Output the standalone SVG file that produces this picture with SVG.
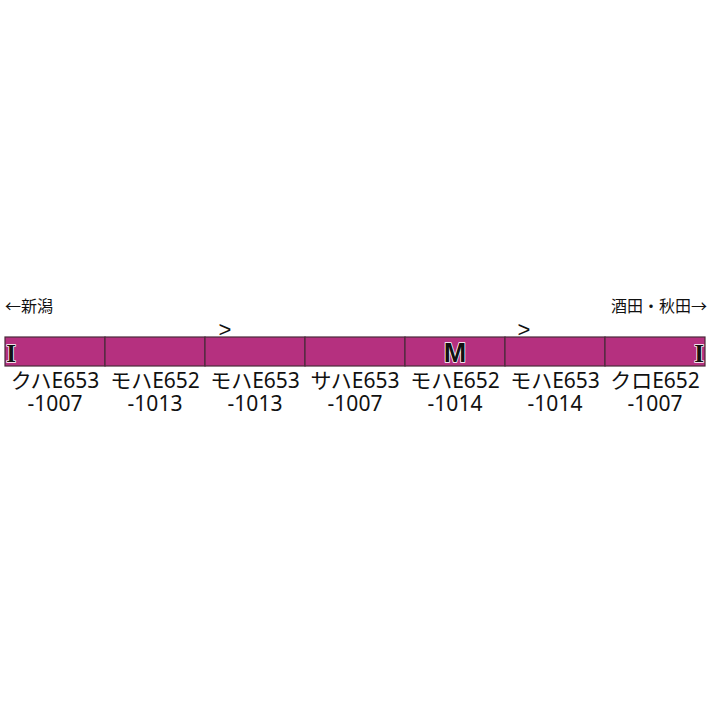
<svg xmlns="http://www.w3.org/2000/svg" width="712" height="712" viewBox="0 0 712 712">
<style>
.car{fill:#B5307F;stroke:#4a2a3a;stroke-width:1.2}
.lbl{font-family:"Noto Sans","Noto Sans CJK JP",sans-serif;font-size:21px;fill:#111;text-anchor:middle}
.dir{font-family:"Noto Sans CJK JP","Noto Sans",sans-serif;font-size:16px;fill:#111}
.mk{font-weight:bold;fill:#111;stroke:#fff;stroke-width:1.5;paint-order:stroke;text-anchor:middle}
.ms{font-family:"Liberation Sans","Noto Sans",sans-serif}
.mi{font-family:"Liberation Serif","DejaVu Serif",serif}
.gt{font-family:"Liberation Sans","Noto Sans",sans-serif;font-size:22px;fill:#111;text-anchor:middle}
</style>
<rect width="712" height="712" fill="#fff"/>
<text class="dir" x="5" y="312">←新潟</text>
<text class="dir" x="707" y="312" text-anchor="end">酒田・秋田→</text>
<g id="connectors"></g>
<g id="car1"><rect class="car" x="5" y="337" width="100" height="29"/><text class="mk mi" x="11" y="362" font-size="25">I</text><text class="lbl" x="55" y="388">クハE653<tspan x="55" dy="23">-1007</tspan></text></g>
<g id="car2"><rect class="car" x="105" y="337" width="100" height="29"/><text class="lbl" x="155" y="388">モハE652<tspan x="155" dy="23">-1013</tspan></text></g>
<g id="car3"><rect class="car" x="205" y="337" width="100" height="29"/><text class="gt" x="225" y="337">&gt;</text><text class="lbl" x="255" y="388">モハE653<tspan x="255" dy="23">-1013</tspan></text></g>
<g id="car4"><rect class="car" x="305" y="337" width="100" height="29"/><text class="lbl" x="355" y="388">サハE653<tspan x="355" dy="23">-1007</tspan></text></g>
<g id="car5"><rect class="car" x="405" y="337" width="100" height="29"/><text class="mk ms" x="455" y="362" font-size="27">M</text><text class="lbl" x="455" y="388">モハE652<tspan x="455" dy="23">-1014</tspan></text></g>
<g id="car6"><rect class="car" x="505" y="337" width="100" height="29"/><text class="gt" x="524" y="337">&gt;</text><text class="lbl" x="555" y="388">モハE653<tspan x="555" dy="23">-1014</tspan></text></g>
<g id="car7"><rect class="car" x="605" y="337" width="100" height="29"/><text class="mk mi" x="699" y="362" font-size="25">I</text><text class="lbl" x="655" y="388">クロE652<tspan x="655" dy="23">-1007</tspan></text></g>
</svg>
